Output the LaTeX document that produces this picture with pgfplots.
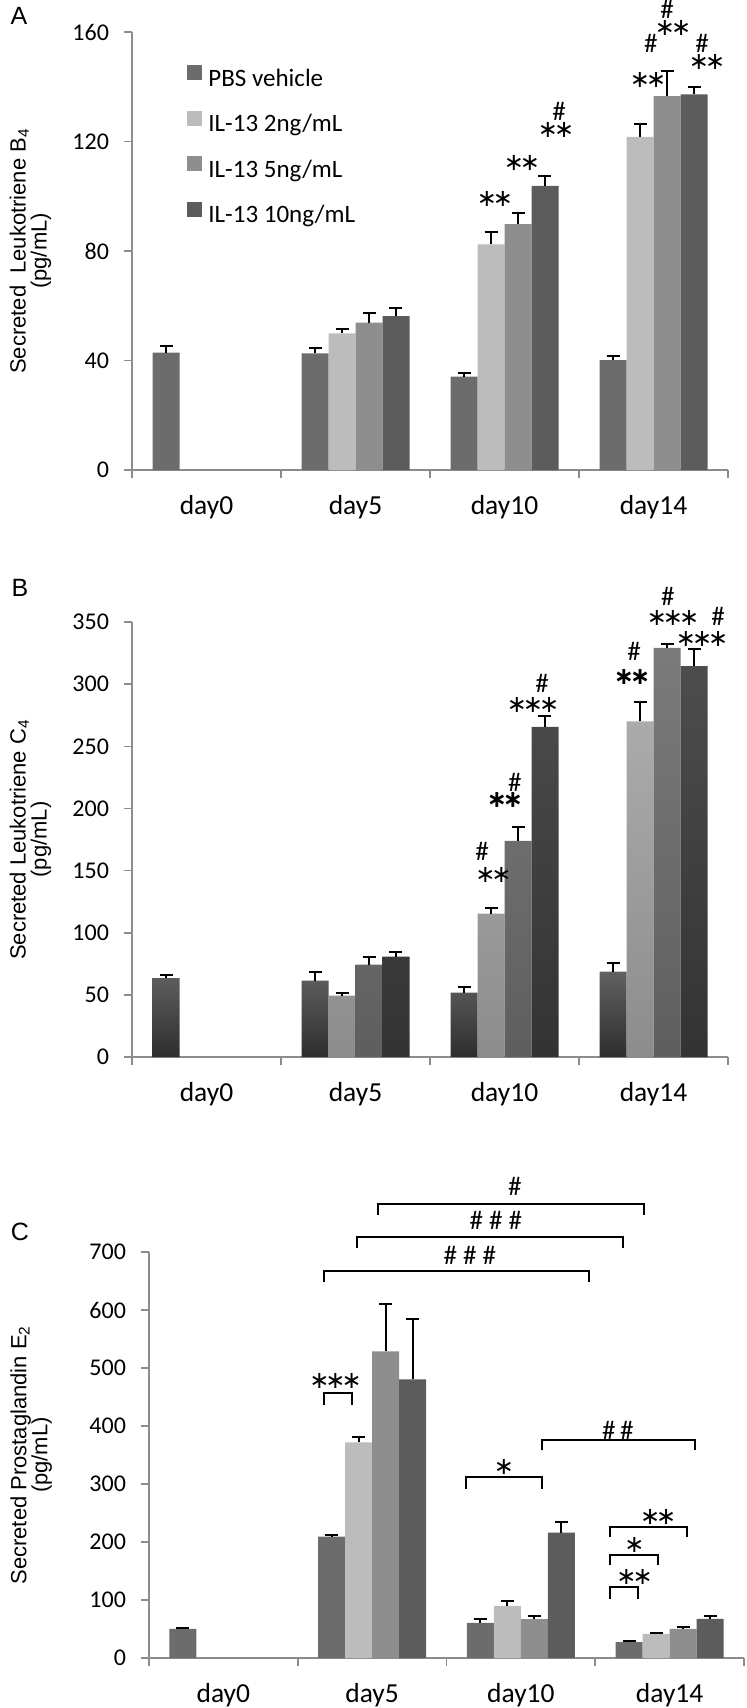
\documentclass[border=0pt]{standalone}
\usepackage{fontspec}
\setmainfont{Carlito}
\newfontfamily\arialf{Liberation Sans}
\newfontfamily\djv{DejaVu Sans}
\usepackage{pgfplots}
\usepackage{pgfplotstable}
\pgfplotsset{compat=1.18}

\definecolor{cPBS}{RGB}{108,108,108}
\definecolor{cTwo}{RGB}{188,188,188}
\definecolor{cFive}{RGB}{142,142,142}
\definecolor{cTen}{RGB}{92,92,92}
\definecolor{axgray}{RGB}{140,140,140}

% mean and SEM (upper error only); x = day index
\pgfplotstableread{
x pbs pbse two twoe five fivee ten tene
0 42.9 2.4 nan nan nan nan nan nan
1 42.6 2.0 49.9 1.7 53.8 3.4 56.2 3.0
2 34.1 1.4 82.4 4.6 89.8 4.1 103.8 3.5
3 40.1 1.5 121.7 4.8 136.6 9.0 137.2 2.7
}\ltbfour
\pgfplotstableread{
x pbs pbse two twoe five fivee ten tene
0 63.5 2.3 nan nan nan nan nan nan
1 61.5 6.6 49.3 2.6 74.4 5.8 80.8 3.7
2 51.9 4.6 115.4 4.3 174.0 11.0 265.7 8.7
3 68.7 7.2 270.0 16.0 329.2 2.9 314.5 13.8
}\ltcfour
\pgfplotstableread{
x pbs pbse two twoe five fivee ten tene
0 50.4 1.4 nan nan nan nan nan nan
1 209.4 3.0 371.8 9.0 528.7 81.5 480.3 105.0
2 60.8 6.2 89.8 9.0 67.0 5.6 216.3 18.7
3 27.6 2.1 41.5 2.0 50.4 3.5 67.7 5.6
}\pgetwo

\newcommand\sx{\kern-2pt}
\newcommand\dayf{\fontsize{13.75}{14}\selectfont}
\tikzset{
  ast/.style={font=\djv\fontsize{12}{12}\selectfont, inner sep=0pt},
  astb/.style={font=\djv\bfseries\fontsize{12}{12}\selectfont, inner sep=0pt},
  hsh/.style={font=\fontsize{13.5}{13.5}\selectfont, inner sep=0pt},
  brk/.style={line width=1pt, black},
}

\pgfplotsset{
  panel/.style={
    scale only axis,
    width=298pt,
    xmin=-0.5, xmax=3.5, ymin=0,
    axis x line*=bottom, axis y line*=left,
    axis line style={axgray, line width=0.8pt},
    tick align=outside,
    major tick length=4pt, minor tick length=4pt,
    xtick={0,1,2,3},
    xticklabels={{\dayf day0},{\dayf day5},{\dayf day10},{\dayf day14}},
    minor xtick={-0.5,0.5,1.5,2.5,3.5},
    major x tick style={draw=none},
    minor x tick style={axgray, line width=0.8pt},
    y tick style={axgray, line width=0.8pt},
    xticklabel style={yshift=-5pt},
    yticklabel={\fontsize{12}{12}\selectfont\pgfmathprintnumber{\tick}},
    yticklabel style={xshift=-4pt},
    /pgf/number format/assume math mode=true,
    ylabel style={at={(axis description cs:-0.1703,0.5)}, anchor=center,
      align=center, font=\arialf\fontsize{11}{10.5}\selectfont},
    clip=false,
    bar width=0.1812,
    error bars/y dir=plus, error bars/y explicit,
    error bars/error bar style={black, line width=1pt},
    error bars/error mark options={black, line width=1pt, mark size=3.25pt, rotate=90},
  },
}

\begin{document}
\begin{tikzpicture}
\useasboundingbox (0pt,0pt) rectangle (373pt,-854pt);

% ---------- A: LTB4 ----------
\begin{axis}[panel,
  at={(66pt,-235pt)}, anchor=south west,
  height=219pt, ymax=160, ytick={0,40,...,160},
  ylabel={Secreted\ \ Leukotriene B\textsubscript{4}\\(pg/mL)},
  legend style={at={(axis description cs:0.0923,0.9247)}, anchor=north west,
    draw=none, fill=none, inner sep=0pt, row sep=9.2pt,
    font=\fontsize{12.5}{12.5}\selectfont,
    nodes={inner sep=0pt, text height=9pt, text depth=3pt},
    /tikz/every odd column/.append style={column sep=3pt}},
  legend cell align=left,
  legend image code/.code={\fill[#1] (0pt,0pt) rectangle (7.5pt,7.5pt);},
]
\addplot[ybar, fill=cPBS, draw=none] table[x expr=\thisrow{x}-0.2718, y=pbs, y error=pbse] {\ltbfour};
\addplot[ybar, fill=cTwo, draw=none] table[x expr=\thisrow{x}-0.0906, y=two, y error=twoe] {\ltbfour};
\addplot[ybar, fill=cFive, draw=none] table[x expr=\thisrow{x}+0.0906, y=five, y error=fivee] {\ltbfour};
\addplot[ybar, fill=cTen, draw=none] table[x expr=\thisrow{x}+0.2718, y=ten, y error=tene] {\ltbfour};
\legend{PBS vehicle, IL-13 2ng/mL, IL-13 5ng/mL, IL-13 10ng/mL}
\node[ast] at (axis cs:1.936,99) {∗\sx∗};
\node[ast] at (axis cs:2.117,112) {∗\sx∗};
\node[ast] at (axis cs:2.346,124.2) {∗\sx∗};
\node[hsh] at (axis cs:2.366,131.1) {\#};
\node[ast] at (axis cs:2.963,142.5) {∗\sx∗};
\node[hsh] at (axis cs:2.983,156) {\#};
\node[ast] at (axis cs:3.131,161.4) {∗\sx∗};
\node[hsh] at (axis cs:3.091,168.4) {\#};
\node[ast] at (axis cs:3.359,149) {∗\sx∗};
\node[hsh] at (axis cs:3.326,156) {\#};
\end{axis}
\node[font=\arialf\fontsize{12.5}{12.5}\selectfont] at (9.5pt,-8pt) {A};

% ---------- B: LTC4 ----------
\begin{axis}[panel,
  at={(66pt,-528.5pt)}, anchor=south west,
  height=217.5pt, ymax=350, ytick={0,50,...,350},
  ylabel={Secreted Leukotriene C\textsubscript{4}\\(pg/mL)},
]
\addplot[ybar, top color=black!62, bottom color=black!82, draw=none] table[x expr=\thisrow{x}-0.2718, y=pbs, y error=pbse] {\ltcfour};
\addplot[ybar, top color=black!33, bottom color=black!45, draw=none] table[x expr=\thisrow{x}-0.0906, y=two, y error=twoe] {\ltcfour};
\addplot[ybar, top color=black!52, bottom color=black!63, draw=none] table[x expr=\thisrow{x}+0.0906, y=five, y error=fivee] {\ltcfour};
\addplot[ybar, top color=black!70, bottom color=black!80, draw=none] table[x expr=\thisrow{x}+0.2718, y=ten, y error=tene] {\ltcfour};
\node[ast] at (axis cs:1.926,146.6) {∗\sx∗};
\node[hsh] at (axis cs:1.849,165.3) {\#};
\node[astb] at (axis cs:2.003,206.8) {∗\sx∗};
\node[hsh] at (axis cs:2.070,221) {\#};
\node[ast] at (axis cs:2.191,283.2) {∗\sx∗\sx∗};
\node[hsh] at (axis cs:2.252,300.9) {\#};
\node[astb] at (axis cs:2.856,305.7) {∗\sx∗};
\node[hsh] at (axis cs:2.869,326.6) {\#};
\node[ast] at (axis cs:3.131,353) {∗\sx∗\sx∗};
\node[hsh] at (axis cs:3.097,371) {\#};
\node[ast] at (axis cs:3.326,336) {∗\sx∗\sx∗};
\node[hsh] at (axis cs:3.433,354.8) {\#};
\end{axis}
\node[font=\arialf\fontsize{12.5}{12.5}\selectfont] at (10pt,-294pt) {B};

% ---------- C: PGE2 ----------
\begin{axis}[panel,
  at={(74.5pt,-829pt)}, anchor=south west,
  width=297.5pt, height=203pt, ymax=700, ytick={0,100,...,700},
  ylabel={Secreted Prostaglandin E\textsubscript{2}\\(pg/mL)},
  ylabel style={at={(axis description cs:-0.198,0.5)}},
]
\addplot[ybar, fill=cPBS, draw=none] table[x expr=\thisrow{x}-0.2718, y=pbs, y error=pbse] {\pgetwo};
\addplot[ybar, fill=cTwo, draw=none] table[x expr=\thisrow{x}-0.0906, y=two, y error=twoe] {\pgetwo};
\addplot[ybar, fill=cFive, draw=none] table[x expr=\thisrow{x}+0.0906, y=five, y error=fivee] {\pgetwo};
\addplot[ybar, fill=cTen, draw=none] table[x expr=\thisrow{x}+0.2718, y=ten, y error=tene] {\pgetwo};
% significance brackets
\draw[brk] (axis cs:0.674,436) -- (axis cs:0.674,456.8) -- (axis cs:0.865,456.8) -- (axis cs:0.865,436);
\node[ast] at (axis cs:0.754,477.5) {∗\sx∗\sx∗};
\draw[brk] (axis cs:0.674,648) -- (axis cs:0.674,666.9) -- (axis cs:2.461,666.9) -- (axis cs:2.461,648);
\node[hsh] at (axis cs:1.657,694.5) {\# \# \#};
\draw[brk] (axis cs:0.897,707) -- (axis cs:0.897,725.6) -- (axis cs:2.684,725.6) -- (axis cs:2.684,707);
\node[hsh] at (axis cs:1.832,754) {\# \# \#};
\draw[brk] (axis cs:1.041,763.6) -- (axis cs:1.041,783) -- (axis cs:2.828,783) -- (axis cs:2.828,763.6);
\node[hsh] at (axis cs:1.96,814) {\#};
\draw[brk] (axis cs:1.631,291) -- (axis cs:1.631,311.7) -- (axis cs:2.142,311.7) -- (axis cs:2.142,291);
\node[ast] at (axis cs:1.886,330) {∗};
\draw[brk] (axis cs:2.142,358) -- (axis cs:2.142,376.6) -- (axis cs:3.169,376.6) -- (axis cs:3.169,358);
\node[hsh] at (axis cs:2.652,392.5) {\#\,\#};
\draw[brk] (axis cs:2.598,208) -- (axis cs:2.598,225.3) -- (axis cs:3.115,225.3) -- (axis cs:3.115,208);
\node[ast] at (axis cs:2.923,244) {∗\sx∗};
\draw[brk] (axis cs:2.598,159.6) -- (axis cs:2.598,178.3) -- (axis cs:2.923,178.3) -- (axis cs:2.923,159.6);
\node[ast] at (axis cs:2.764,195.6) {∗};
\draw[brk] (axis cs:2.598,102) -- (axis cs:2.598,121.6) -- (axis cs:2.786,121.6) -- (axis cs:2.786,102);
\node[ast] at (axis cs:2.764,140) {∗\sx∗};
\end{axis}
\node[font=\arialf\fontsize{12.5}{12.5}\selectfont] at (10pt,-616pt) {C};
\end{tikzpicture}
\end{document}
